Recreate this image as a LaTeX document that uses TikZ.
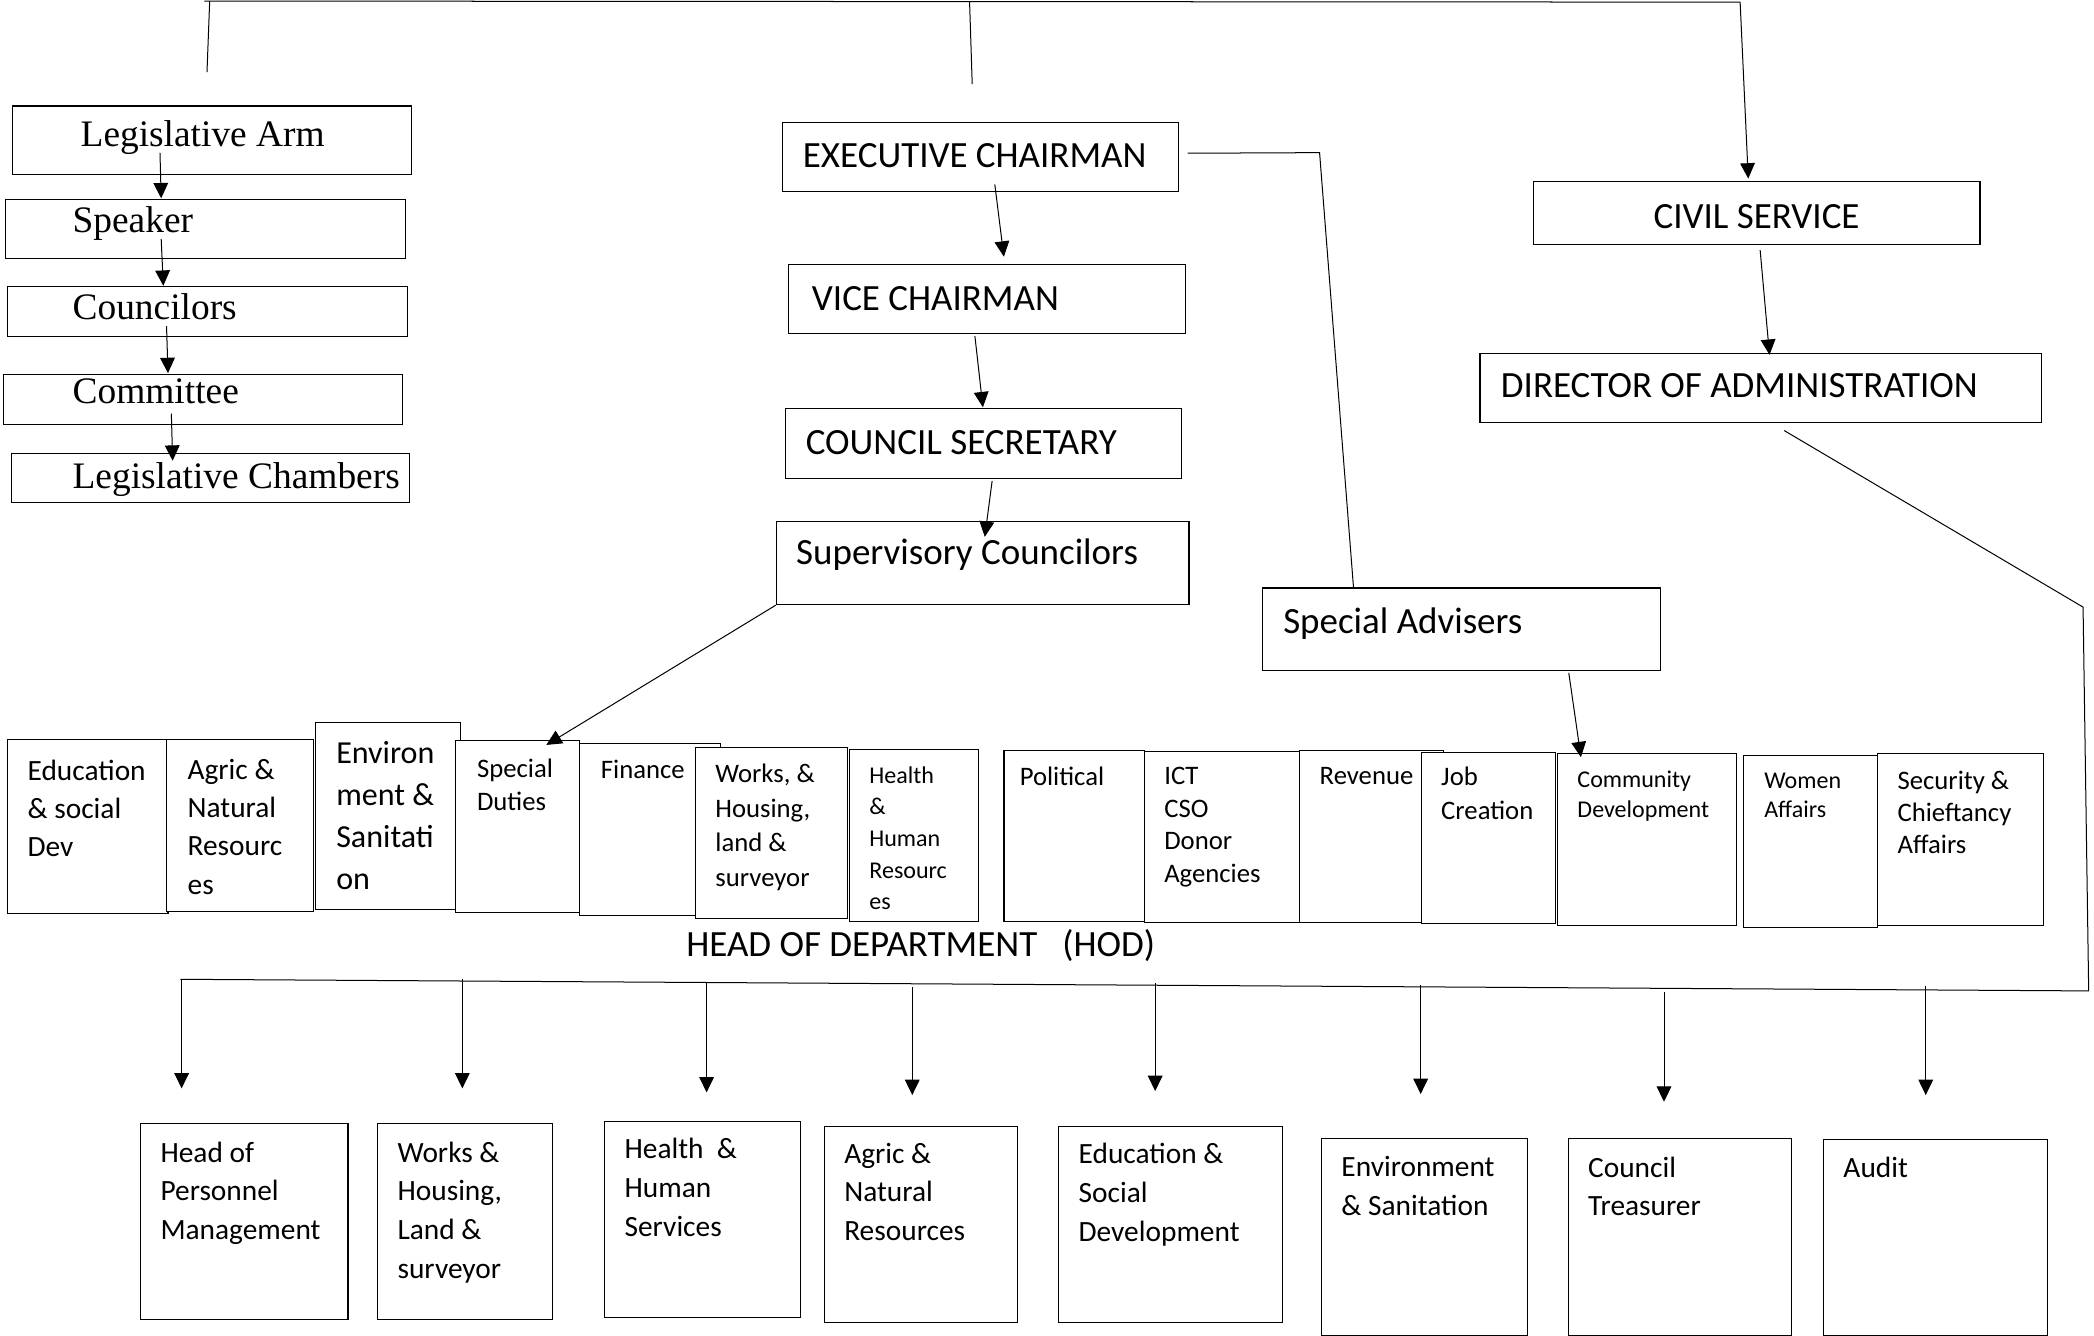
\documentclass[tikz,border=0pt]{standalone}
\usepackage{fontspec}
\setmainfont{Carlito}
\newfontfamily\tnr{Liberation Serif}
\usetikzlibrary{arrows.meta}
\newcommand{\fsz}[2]{\fontsize{#1}{#2}\selectfont}

\begin{document}
\begin{tikzpicture}[x=1pt, y=-1pt,
  box/.style={draw, fill=white, line width=0.8pt, anchor=north west, inner sep=0pt},
  lbl/.style={anchor=north west, inner sep=0pt, align=left},
  one/.style={anchor=base west, inner sep=0pt},
  arr/.style={-{Triangle[length=11.5pt,width=11pt]}, line width=0.75pt},
  ln/.style={line width=0.75pt}]
  \fill[white] (0,0) rectangle (1568,1000);
  \useasboundingbox (0,0) rectangle (1568,1000);

  % Legislative arm
  \node[box, minimum width=299pt, minimum height=51pt] (arm) at (9,79) {};
  \node[one, font=\tnr\fsz{28}{34}] (arm-t) at ([xshift=51.2pt, yshift=-30.8pt]arm.north west) {Legislative Arm};
  \node[box, minimum width=299.5pt, minimum height=44pt] (speaker) at (3.5,149) {};
  \node[one, font=\tnr\fsz{28}{34}] (speaker-t) at ([xshift=50.7pt, yshift=-25pt]speaker.north west) {Speaker};
  \node[box, minimum width=299pt, minimum height=37.6pt] (councilors) at (5.5,214) {};
  \node[one, font=\tnr\fsz{28}{34}] (councilors-t) at ([xshift=48.7pt, yshift=-25pt]councilors.north west) {Councilors};
  \node[box, minimum width=298.5pt, minimum height=37.6pt] (committee) at (2.5,280) {};
  \node[one, font=\tnr\fsz{28}{34}] (committee-t) at ([xshift=51.7pt, yshift=-22.5pt]committee.north west) {Committee};
  \node[box, minimum width=298pt, minimum height=37pt] (chambers) at (8,339) {};
  \node[one, font=\tnr\fsz{28}{34}] (chambers-t) at ([xshift=46.2pt, yshift=-27pt]chambers.north west) {Legislative Chambers};

  % Executive arm
  \node[box, minimum width=297pt, minimum height=51.9pt] (exec) at (585.3,91.1) {};
  \node[one, font=\fsz{27.7}{33}] (exec-t) at ([xshift=15.7pt, yshift=-34.2pt]exec.north west) {EXECUTIVE CHAIRMAN};
  \node[box, minimum width=297pt, minimum height=51.9pt] (vice) at (590.3,197.7) {};
  \node[one, font=\fsz{27.7}{33}] (vice-t) at ([xshift=17.5pt, yshift=-34.9pt]vice.north west) {VICE CHAIRMAN};
  \node[box, minimum width=296.7pt, minimum height=52.5pt] (secretary) at (587.7,305.7) {};
  \node[one, font=\fsz{27.7}{33}] (secretary-t) at ([xshift=15.5pt, yshift=-35pt]secretary.north west) {COUNCIL SECRETARY};
  \node[box, minimum width=308.9pt, minimum height=62.2pt] (super) at (581,390.1) {};
  \node[one, font=\fsz{27.7}{33}] (super-t) at ([xshift=15pt, yshift=-32.9pt]super.north west) {Supervisory Councilors};
  \node[box, minimum width=298.6pt, minimum height=61.8pt] (advisers) at (944.7,439.9) {};
  \node[one, font=\fsz{27.7}{33}] (advisers-t) at ([xshift=16pt, yshift=-34.1pt]advisers.north west) {Special Advisers};

  % Civil service
  \node[box, minimum width=334pt, minimum height=47.1pt] (civil) at (1148.2,135.7) {};
  \node[one, font=\fsz{27.7}{33}] (civil-t) at ([xshift=89.8pt, yshift=-35.3pt]civil.north west) {CIVIL SERVICE};
  \node[box, minimum width=420.2pt, minimum height=52.2pt] (director) at (1107.8,264) {};
  \node[one, font=\fsz{27.7}{33}] (director-t) at ([xshift=15.9pt, yshift=-34pt]director.north west) {DIRECTOR OF ADMINISTRATION};

  % Departments
  \foreach \nm/\bx/\by/\bw/\bh/\dx/\dy/\fs/\bs/\txt in {
    edu/5/553.6/120.4/130.3/15.5/15.0/22/28.5/{Education\\\& social\\Dev},
    agric/124.3/553.6/110.3/128.5/16/15.0/22/28.5/{Agric \&\\Natural\\Resourc\\es},
    env/235.7/540.4/108.8/140.5/15.9/14.9/24/31.3/{Environ\\ment \&\\Sanitati\\on},
    special/341/554/92.7/128.7/16/13.9/20/25/{Special\\Duties},
    finance/433.7/556.6/105.3/128.5/16.1/12.6/20/25/{Finance},
    works/520.5/559.1/113.8/128.5/15/12.6/20/26/{Works, \&\\Housing,\\land \&\\surveyor},
    health/635.8/561/96.2/128.4/15/12.8/18/23.7/{Health\\\&\\Human\\Resourc\\es},
    political/751.4/561.6/105.5/127.8/12/12.6/20/25/{Political},
    ict/856.9/562.1/115.5/128/14.7/12.1/20/24.5/{ICT\\CSO\\Donor\\Agencies},
    revenue/972.4/561.6/108.1/128.5/15.6/12.6/20/25/{Revenue},
    job/1063.8/562.8/100.3/128.6/15.2/11.4/20/25.7/{Job\\Creation},
    community/1165.6/563.6/134.1/129/15.4/13.2/18/22.5/{Community\\Development},
    women/1305.1/565.6/100.1/128.8/15.8/13.2/18/21.5/{Women\\Affairs},
    security/1405.2/563.6/124.6/129/15.5/13.8/20/24/{Security \&\\Chieftancy\\Affairs}}{
    \node[box, minimum width=\bw pt, minimum height=\bh pt] (\nm) at (\bx,\by) {};
    \node[lbl, font=\fsz{\fs}{\bs}] (\nm-t) at ([xshift=\dx pt, yshift=-\dy pt]\nm.north west) {\txt};
  }
  \node[one, font=\fsz{27.7}{33}] (hod) at (513.7,716.4) {HEAD OF DEPARTMENT\ \ \ (HOD)};

  % Units
  \foreach \nm/\bx/\by/\bw/\bh/\dy/\txt in {
    personnel/104.8/841.1/155.4/146.8/13.7/{Head of\\Personnel\\Management},
    worksb/282.3/841.1/130.9/146.8/13.7/{Works \&\\Housing,\\Land \&\\surveyor},
    healthb/452.3/839.2/146.9/146.7/13.1/{Health\ \ \&\\Human\\Services},
    agricb/616.8/842.9/144.4/146.7/12.7/{Agric \&\\Natural\\Resources},
    edub/792.3/842.9/167.7/146.7/13.1/{Education \&\\Social\\Development},
    envb/989.1/852.4/154.5/147.2/13.6/{Environment\\\& Sanitation},
    treas/1173.8/852.4/167.6/147.2/13.6/{Council\\Treasurer},
    audit/1365/853.1/167.7/146.5/12.9/{Audit}}{
    \node[box, minimum width=\bw pt, minimum height=\bh pt] (\nm) at (\bx,\by) {};
    \node[lbl, font=\fsz{22}{29}] (\nm-t) at ([xshift=15.2pt, yshift=-\dy pt]\nm.north west) {\txt};
  }

  % Top bus
  \coordinate (busL) at (153,0.8);
  \coordinate (busR) at (1303,1.6);
  \coordinate (legA) at (157,1);
  \coordinate (legB) at (155,54);
  \coordinate (exeA) at (726,0.8);
  \coordinate (exeB) at (728,63);
  \draw[ln] (busL) -- (busR);
  \draw[ln] (legA) -- (legB);
  \draw[ln] (exeA) -- (exeB);
  \draw[arr] (busR) -- ([xshift=-6.5pt, yshift=2pt]civil.north);

  % Legislative chain
  \draw[arr] ([xshift=-39.1pt, yshift=16.4pt]arm.south) -- ([xshift=-32.95pt, yshift=0.5pt]speaker.north);
  \draw[arr] ([xshift=-32.95pt, yshift=14.7pt]speaker.south) -- ([xshift=-33.1pt]councilors.north);
  \draw[arr] ([xshift=-30.7pt, yshift=8.2pt]councilors.south) -- ([xshift=-26.35pt, yshift=0.6pt]committee.north);
  \draw[arr] ([xshift=-23.85pt, yshift=8.6pt]committee.south) -- ([xshift=-28.1pt, yshift=-6pt]chambers.north);

  % Executive chain
  \draw[arr] ([xshift=10.7pt, yshift=5.7pt]exec.south) -- ([xshift=12.5pt, yshift=5.5pt]vice.north);
  \draw[arr] ([xshift=-9.2pt, yshift=-1.2pt]vice.south) -- ([xshift=-0.45pt, yshift=0.7pt]secretary.north);
  \draw[arr] ([xshift=6.45pt, yshift=-1.2pt]secretary.south) -- ([xshift=1.55pt, yshift=-11.9pt]super.north);
  \draw[arr] (super.south west) -- ([xshift=21.35pt, yshift=-3.8pt]special.north);
  \coordinate (advK) at (988.1,114.3);
  \draw[ln] ([xshift=6.1pt, yshift=2.7pt]exec.east) -- (advK) -- ([xshift=68.8pt]advisers.north west);
  \draw[arr] ([xshift=80.3pt, yshift=-1.3pt]advisers.south) -- ([xshift=18.2pt, yshift=-3.4pt]community.north west);

  % Civil service chain
  \draw[arr] ([xshift=2.4pt, yshift=-3.7pt]civil.south) -- ([xshift=6.7pt, yshift=-1.7pt]director.north);
  \coordinate (dirK) at (1559.8,454.6);
  \coordinate (dirB) at (1564,742);
  \coordinate (hodL) at (135,733.3);
  \draw[ln] ([xshift=17.7pt, yshift=-5.4pt]director.south) -- (dirK) -- (dirB) -- (hodL);
  \foreach \i/\x/\a/\b in {1/136/733.8/815, 2/346.2/732.8/815, 3/529.1/736.3/818, 4/683.1/739.3/820,
    5/865/736/817, 6/1063.8/737.6/819.2, 7/1246/743/825, 8/1442/738/820}{
    \coordinate (hod\i) at (\x,\a);
    \coordinate (hodtip\i) at (\x,\b);
    \draw[arr] (hod\i) -- (hodtip\i);
  }
\end{tikzpicture}
\end{document}
